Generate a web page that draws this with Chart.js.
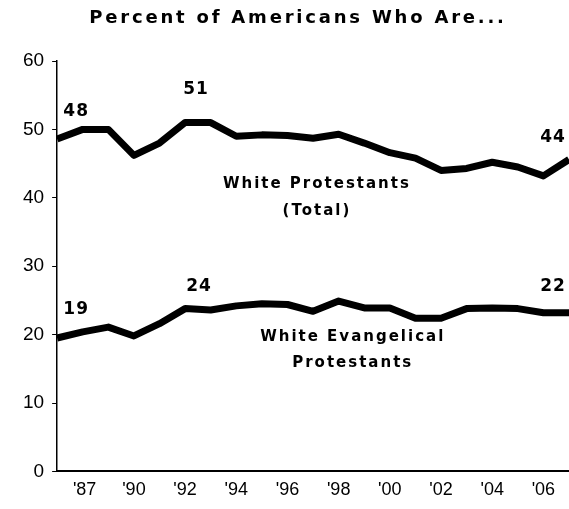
<!DOCTYPE html>
<html>
<head>
<meta charset="utf-8">
<script src="https://cdn.jsdelivr.net/npm/chart.js@4.4.1/dist/chart.umd.min.js"></script>
<style>
  html, body { margin: 0; padding: 0; background: #fff; }
</style>
</head>
<body>
<canvas id="chart" width="569" height="509"></canvas>
<script>
const chartTitle = "Percent of Americans Who Are...";
const years = ["1987", "1988", "1989", "1990", "1991", "1992", "1993", "1994", "1995", "1996", "1997",
    "1998", "1999", "2000", "2001", "2002", "2003", "2004", "2005", "2006", "2007"];
const shownTicks = { "1987": "'87", "1990": "'90", "1992": "'92", "1994": "'94", "1996": "'96",
    "1998": "'98", "2000": "'00", "2002": "'02", "2004": "'04", "2006": "'06" };

// % of Americans
const whiteProtestants = [48.6, 50, 50, 46.2, 48, 51, 51, 49, 49.2, 49.1, 48.7,
    49.3, 48, 46.6, 45.8, 44, 44.3, 45.2, 44.5, 43.2, 45.6];
const whiteEvangelicals = [19.5, 20.4, 21.1, 19.8, 21.6, 23.8, 23.6, 24.2, 24.5, 24.4, 23.4,
    24.9, 23.9, 23.9, 22.4, 22.4, 23.8, 23.9, 23.8, 23.2, 23.2];

// values printed on the lines
const calloutYears = ["1987", "1992", "2007"];
const protestantCallouts = [48, 51, 44];
const evangelicalCallouts = [19, 24, 22];

const $ = (id) => document.getElementById(id);

const notes = {
    id: "notes",
    afterDatasetsDraw(chart) {
        const { ctx, scales: { x, y } } = chart;
        const at = (yr) => years.indexOf(yr);
        ctx.save();
        ctx.fillStyle = "#000";
        ctx.textAlign = "center";
        ctx.textBaseline = "middle";

        // title
        ctx.font = "bold 18px 'DejaVu Sans'";
        ctx.letterSpacing = "2.8px";
        ctx.fillText(chartTitle, 298, 18);

        // numbers on the lines
        ctx.font = "bold 17px 'DejaVu Sans'";
        ctx.letterSpacing = "1px";
        const offs = [[19, -27], [11, -33], [-16, -22]];
        const offsLow = [[19, -28], [14, -22], [-16, -26]];
        calloutYears.forEach((yr, i) => {
            const i0 = at(yr);
            ctx.fillText(String(protestantCallouts[i]), x.getPixelForValue(i0) + offs[i][0],
                y.getPixelForValue(whiteProtestants[i0]) + offs[i][1]);
            ctx.fillText(String(evangelicalCallouts[i]), x.getPixelForValue(i0) + offsLow[i][0],
                y.getPixelForValue(whiteEvangelicals[i0]) + offsLow[i][1]);
        });

        // series names
        ctx.font = "bold 15px 'DejaVu Sans'";
        ctx.letterSpacing = "2px";
        ctx.fillText("White Protestants", x.getPixelForValue(10.15), y.getPixelForValue(42));
        ctx.fillText("(Total)", x.getPixelForValue(10.15), y.getPixelForValue(38));
        ctx.fillText("White Evangelical", x.getPixelForValue(11.55), y.getPixelForValue(19.7));
        ctx.fillText("Protestants", x.getPixelForValue(11.55), y.getPixelForValue(15.9));
        ctx.restore();
    }
};

new Chart($("chart"), {
    type: "line",
    data: {
        labels: years,
        datasets: [
            { label: "White Protestants (Total)", data: whiteProtestants },
            { label: "White Evangelical Protestants", data: whiteEvangelicals }
        ]
    },
    options: {
        responsive: false,
        animation: false,
        devicePixelRatio: 1,
        layout: { padding: { top: 61, left: 15, right: 0, bottom: 8 } },
        elements: {
            line: { borderColor: "#000", borderWidth: 7, tension: 0, borderJoinStyle: "round", borderCapStyle: "butt" },
            point: { radius: 0, hoverRadius: 0 }
        },
        plugins: { legend: { display: false }, tooltip: { enabled: false } },
        scales: {
            x: {
                offset: false,
                grid: { display: false, drawTicks: true, tickLength: 8 },
                border: { color: "#000", width: 2 },
                ticks: {
                    autoSkip: false, maxRotation: 0, padding: 0, color: "#000",
                    font: { family: "'Liberation Sans', Arial", size: 18 },
                    callback: (v) => {
                        const t = shownTicks[years[v]] || "";
                        return years[v] === "1987" ? "\u00a0".repeat(11) + t : t;
                    }
                }
            },
            y: {
                min: 0, max: 60,
                grid: { drawOnChartArea: false, drawTicks: true, tickLength: 5, color: "#000" },
                border: { color: "#000", width: 1.5 },
                ticks: { stepSize: 10, padding: 8, color: "#000", font: { family: "'Liberation Sans', Arial", size: 19 } }
            }
        }
    },
    plugins: [notes]
});
</script>
</body>
</html>
